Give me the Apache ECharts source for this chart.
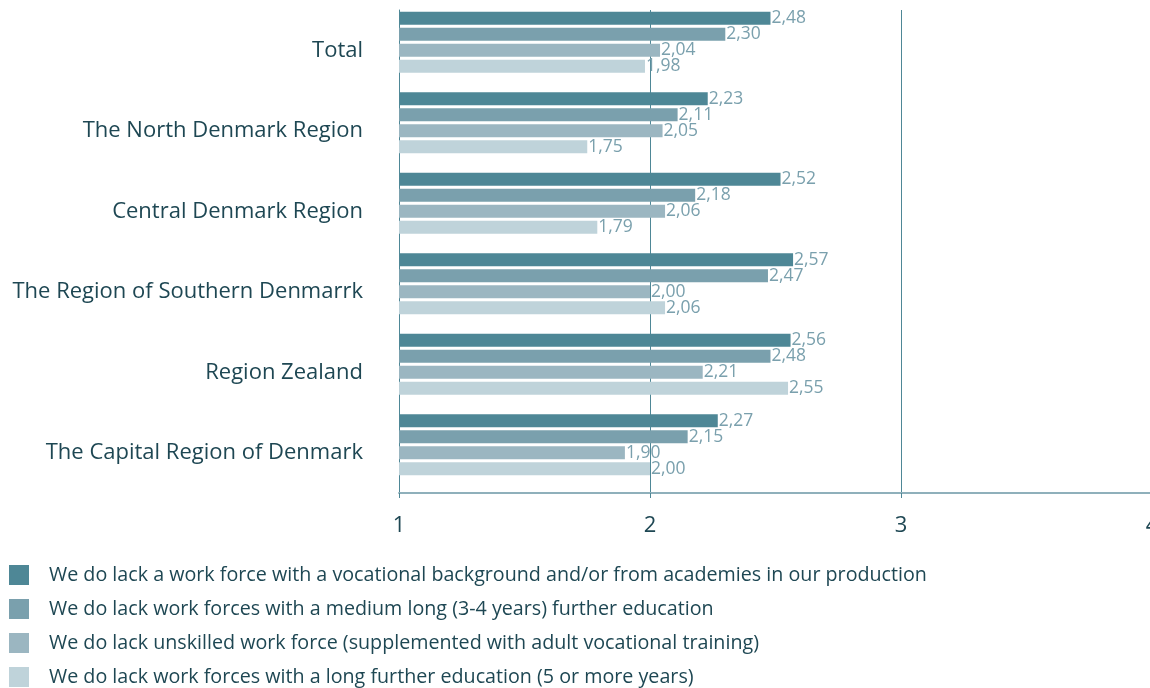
<!DOCTYPE html>
<html>
<head>
<meta charset="utf-8">
<script src="https://cdn.jsdelivr.net/npm/echarts@6/dist/echarts.min.js"></script>
<style>
  html, body { margin: 0; padding: 0; background: #fff; }
  #chart { width: 1150px; height: 688px; }
</style>
</head>
<body>
<div id="chart"></div>
<script>
// regions, top to bottom
const regions = [
  'Total',
  'The North Denmark Region',
  'Central Denmark Region',
  'The Region of Southern Denmarrk',
  'Region Zealand',
  'The Capital Region of Denmark'
];

const seriesNames = [
  'We do lack a work force with a vocational background and/or from academies in our production',
  'We do lack work forces with a medium long (3-4 years) further education',
  'We do lack unskilled work force (supplemented with adult vocational training)',
  'We do lack work forces with a long further education (5 or more years)'
];

const vocational = [2.48, 2.23, 2.52, 2.57, 2.56, 2.27];
const mediumLong = [2.30, 2.11, 2.18, 2.47, 2.48, 2.15];
const unskilled = [2.04, 2.05, 2.06, 2.00, 2.21, 1.90];
const longEdu = [1.98, 1.75, 1.79, 2.06, 2.55, 2.00];

const xTicks = [1, 2, 3, 4];

const colors = ['#4e8796', '#7aa0ad', '#9bb6c1', '#bfd3da'];
const textDark = '#1e4753';
const font = '"Open Sans", "Noto Sans", sans-serif';

const valueLists = [vocational, mediumLong, unskilled, longEdu];

let series = valueLists.map((vals, i) => ({
  name: seriesNames[i],
  type: 'bar',
  data: vals,
  barWidth: 13,
  barGap: '23%',
  itemStyle: { color: colors[i], borderWidth: 0 },
  label: {
    show: true,
    position: 'right',
    distance: 1,
    color: '#7aa0ad',
    fontSize: 17.5,
    fontFamily: font,
    formatter: p => p.value.toFixed(2).replace('.', ',')
  }
}));
// empty slot so the 4 bars sit at the top of each band
series.push({
  name: 'spacer',
  type: 'bar',
  data: regions.map(() => null),
  barWidth: 13,
  barGap: '23%',
  silent: true
});

let chart = echarts.init(document.getElementById('chart'));
chart.setOption({
  animation: false,
  color: colors,
  grid: { left: 399, width: 753, top: 10, height: 483, containLabel: false, outerBoundsMode: 'none' },
  legend: {
    data: seriesNames,
    orient: 'vertical',
    left: 4,
    top: 560,
    height: 200,
    itemWidth: 20,
    itemHeight: 20,
    itemGap: 14,
    icon: 'rect',
    textStyle: { color: textDark, fontSize: 19.7, fontFamily: font, padding: [0, 0, 0, 15] }
  },
  xAxis: {
    type: 'value',
    min: xTicks[0],
    max: xTicks[xTicks.length - 1],
    interval: 1,
    axisLine: { show: true, lineStyle: { color: '#8fb0bb', width: 2 } },
    axisTick: { show: true, length: 5, lineStyle: { color: '#4e8796' } },
    axisLabel: { color: textDark, fontSize: 22, fontFamily: font, margin: 22 },
    splitLine: { show: true, lineStyle: { color: '#4e8796', width: 1 } }
  },
  yAxis: {
    type: 'category',
    data: regions,
    inverse: true,
    axisLine: { show: true, lineStyle: { color: '#4e8796', width: 1 } },
    axisTick: { show: false },
    axisLabel: { color: textDark, fontSize: 22, fontFamily: font, margin: 36 }
  },
  series: series
});
</script>
</body>
</html>
